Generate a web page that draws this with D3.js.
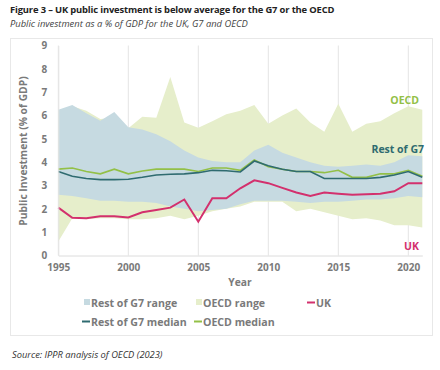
<!DOCTYPE html>
<html><head><meta charset="utf-8">
<script src="https://cdn.jsdelivr.net/npm/d3@7"></script>
<style>
body{margin:0;background:#fff;}
svg{display:block;font-family:"Open Sans",Lato,sans-serif;}
</style></head><body>
<svg id="c" width="440" height="370"></svg>
<script>
const years = d3.range(1995, 2022);
const ukValues = [2.05,1.62,1.6,1.68,1.68,1.63,1.85,1.95,2.05,2.4,1.45,2.45,2.45,2.88,3.22,3.1,2.9,2.7,2.55,2.7,2.65,2.6,2.62,2.65,2.75,3.1,3.1];
const g7Median = [3.6,3.4,3.3,3.25,3.25,3.27,3.35,3.45,3.48,3.5,3.55,3.65,3.63,3.58,4.05,3.85,3.7,3.6,3.6,3.3,3.3,3.3,3.3,3.35,3.45,3.6,3.35];
const oecdMedian = [3.7,3.75,3.6,3.5,3.7,3.5,3.62,3.7,3.7,3.7,3.6,3.75,3.75,3.65,4.1,3.8,3.7,3.6,3.6,3.55,3.65,3.35,3.35,3.5,3.5,3.65,3.4];
const g7Upper = [6.25,6.45,6.1,5.78,6.15,5.5,5.4,5.2,4.9,4.5,4.2,4.05,4.0,4.0,4.5,4.75,4.4,4.2,4.0,3.85,3.8,3.85,3.9,3.85,4.0,4.3,4.25];
const g7Lower = [2.6,2.55,2.45,2.35,2.35,2.3,2.3,2.25,2.1,2.0,1.9,1.95,2.0,2.2,2.35,2.35,2.35,2.3,2.25,2.3,2.3,2.35,2.4,2.4,2.45,2.55,2.5];
const oecdUpper = [6.2,6.4,6.2,5.85,5.9,5.45,5.95,5.9,7.65,5.7,5.47,5.75,6.05,6.2,6.45,5.65,6.0,6.3,5.7,5.3,6.5,5.3,5.65,5.75,6.1,6.4,6.25];
const oecdLower = [0.6,1.6,1.55,1.6,1.6,1.55,1.55,1.6,1.7,1.55,1.7,1.9,2.0,2.1,2.3,2.3,2.3,1.9,2.0,1.85,1.7,1.55,1.6,1.5,1.3,1.3,1.2];
const yTicks = [0,1,2,3,4,5,6,7,8,9];
const xTicks = [1995,2000,2005,2010,2015,2020];

const C = {g7Range:"#c6dae1", oecdRange:"#e6eecb", uk:"#d3306d", g7:"#2f6b70", oecd:"#93c047", grid:"#e4e4e4", text:"#7a7a7a"};

const svg = d3.select("#c");
// frame
svg.append("rect").attr("x",10.5).attr("y",38.5).attr("width",422).attr("height",297)
  .attr("fill","none").attr("stroke","#e8e8e8");
svg.append("text").attr("x",10).attr("y",13).attr("font-size",9.4).attr("font-weight",700).attr("fill","#222")
  .attr("letter-spacing",-0.15)
  .text("Figure 3 – UK public investment is below average for the G7 or the OECD");
svg.append("text").attr("x",10).attr("y",27).attr("font-size",9.4).attr("font-style","italic").attr("fill","#444")
  .text("Public investment as a % of GDP for the UK, G7 and OECD");
svg.append("text").attr("x",12).attr("y",358).attr("font-size",9.3).attr("font-style","italic").attr("fill","#333")
  .text("Source: IPPR analysis of OECD (2023)");

const x = d3.scaleLinear().domain([1995,2021]).range([58.3,422.3]);
const y = d3.scaleLinear().domain([0,9]).range([255.5,45.5]);

// gridlines
svg.append("g").selectAll("line").data(xTicks).join("line")
  .attr("x1",d=>x(d)).attr("x2",d=>x(d)).attr("y1",y(9)).attr("y2",y(0))
  .attr("stroke",C.grid).attr("stroke-width",1);

const area = (lo,hi)=>d3.area().x((d,i)=>x(years[i])).y0((d,i)=>y(lo[i])).y1((d,i)=>y(hi[i]));
svg.append("path").datum(years).attr("d",area(oecdLower,oecdUpper)).attr("fill",C.oecdRange);
svg.append("path").datum(years).attr("d",area(g7Lower,g7Upper)).attr("fill",C.g7Range);

const line = d3.line().x((d,i)=>x(years[i])).y(d=>y(d));
svg.append("path").datum(oecdMedian).attr("d",line).attr("fill","none").attr("stroke",C.oecd).attr("stroke-width",1.6);
svg.append("path").datum(g7Median).attr("d",line).attr("fill","none").attr("stroke",C.g7).attr("stroke-width",1.6);
svg.append("path").datum(ukValues).attr("d",line).attr("fill","none").attr("stroke",C.uk).attr("stroke-width",2);

// axes
const xAxis = svg.append("g").attr("transform",`translate(0,${y(0)})`)
  .call(d3.axisBottom(x).tickValues(xTicks).tickFormat(d3.format("d")).tickSize(0).tickPadding(8));
xAxis.select(".domain").attr("stroke","#dcdcdc");
const yAxis = svg.append("g").attr("transform",`translate(${x(1995)},0)`)
  .call(d3.axisLeft(y).tickValues(yTicks).tickSize(0).tickPadding(11));
yAxis.select(".domain").attr("stroke","#e4e4e4");
svg.selectAll(".tick text").attr("font-family","'Open Sans',sans-serif").attr("font-size",10)
  .attr("font-weight",700).attr("fill",C.text);

svg.append("text").attr("transform","translate(27,151) rotate(-90)").attr("text-anchor","middle")
  .attr("font-size",10.3).attr("font-weight",700).attr("fill",C.text).text("Public Investment (% of GDP)");
svg.append("text").attr("x",240).attr("y",286).attr("text-anchor","middle")
  .attr("font-size",10.3).attr("font-weight",700).attr("fill",C.text).text("Year");

// annotations
svg.append("text").attr("x",419).attr("y",104).attr("text-anchor","end").attr("font-size",10.5).attr("font-weight",700).attr("fill",C.oecd).text("OECD");
svg.append("text").attr("x",424).attr("y",153).attr("text-anchor","end").attr("font-size",10.5).attr("font-weight",700).attr("fill",C.g7).text("Rest of G7");
svg.append("text").attr("x",419).attr("y",250).attr("text-anchor","end").attr("font-size",10.5).attr("font-weight",700).attr("fill",C.uk).text("UK");

// legend
const legend = [
  {t:"Rest of G7 range", type:"rect", c:C.g7Range, x:84, y:304},
  {t:"OECD range", type:"rect", c:C.oecdRange, x:196, y:304},
  {t:"UK", type:"line", c:C.uk, x:307, y:304},
  {t:"Rest of G7 median", type:"line", c:C.g7, x:82, y:323},
  {t:"OECD median", type:"line", c:C.oecd, x:194, y:323}
];
const lg = svg.append("g").selectAll("g").data(legend).join("g");
lg.filter(d=>d.type==="rect").append("rect").attr("x",d=>d.x).attr("y",d=>d.y-5).attr("width",6).attr("height",6).attr("fill",d=>d.c);
lg.filter(d=>d.type==="line").append("line").attr("x1",d=>d.x).attr("x2",d=>d.x+8).attr("y1",d=>d.y-1.5).attr("y2",d=>d.y-1.5).attr("stroke",d=>d.c).attr("stroke-width",2);
lg.append("text").attr("x",d=>d.x+(d.type==="rect"?7:9)).attr("y",d=>d.y+3).attr("font-size",10.6).attr("font-weight",700).attr("fill",C.text).text(d=>d.t);
</script></body></html>
